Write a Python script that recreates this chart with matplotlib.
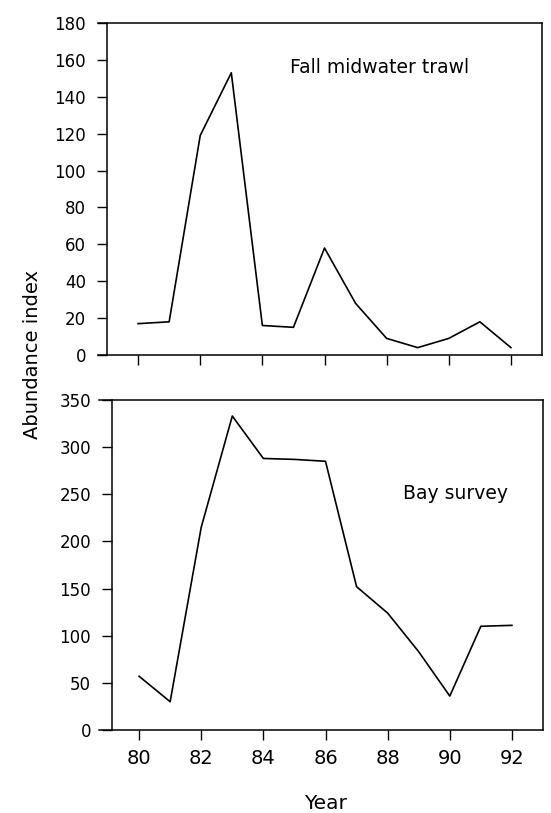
import matplotlib
matplotlib.use("Agg")
import matplotlib.pyplot as plt

plt.rcParams['font.family'] = ['DejaVu Sans']

years = [80, 81, 82, 83, 84, 85, 86, 87, 88, 89, 90, 91, 92]
fall_trawl = [17, 18, 119, 153, 16, 15, 58, 28, 9, 4, 9, 18, 4]
bay_survey = [57, 30, 215, 333, 288, 287, 285, 152, 124, 83, 36, 110, 111]
year_ticks = [80, 82, 84, 86, 88, 90, 92]

fig = plt.figure(figsize=(5.51, 8.13), dpi=100)
ax1 = fig.add_axes([98 / 551, 1 - 355 / 813, 444 / 551, 332 / 813])
ax2 = fig.add_axes([99 / 551, 1 - 730 / 813, 444 / 551, 330 / 813])


def style(ax, ymax, ystep, spine_x):
    ax.set_xlim(78.71, 93.0)
    ax.set_ylim(0, ymax)
    ax.set_yticks(range(0, ymax + 1, ystep))
    ax.set_xticks(year_ticks)
    ax.spines['left'].set_position(('data', spine_x))
    for s in ax.spines.values():
        s.set_linewidth(1.1)
    ax.tick_params(direction='out', length=7, width=1.0)
    ax.tick_params(axis='y', pad=8, labelsize=12)
    ax.tick_params(axis='x', pad=7, labelsize=14)


ax1.plot(years, fall_trawl, color='black', lw=1.2)
style(ax1, 180, 20, 79.0)
ax1.set_xticklabels([])
ax1.text(84.9, 156, 'Fall midwater trawl', fontsize=13.5, va='center', ha='left')

ax2.plot(years, bay_survey, color='black', lw=1.2)
style(ax2, 350, 50, 79.12)
ax2.text(88.5, 251, 'Bay survey', fontsize=13.5, va='center', ha='left')

fig.text(326 / 551, 1 - 803 / 813, 'Year', fontsize=14.5, ha='center', va='center')
fig.text(33 / 551, 1 - 354 / 813, 'Abundance index', rotation=90,
         fontsize=14, ha='center', va='center')

plt.savefig('out.png', dpi=100)
